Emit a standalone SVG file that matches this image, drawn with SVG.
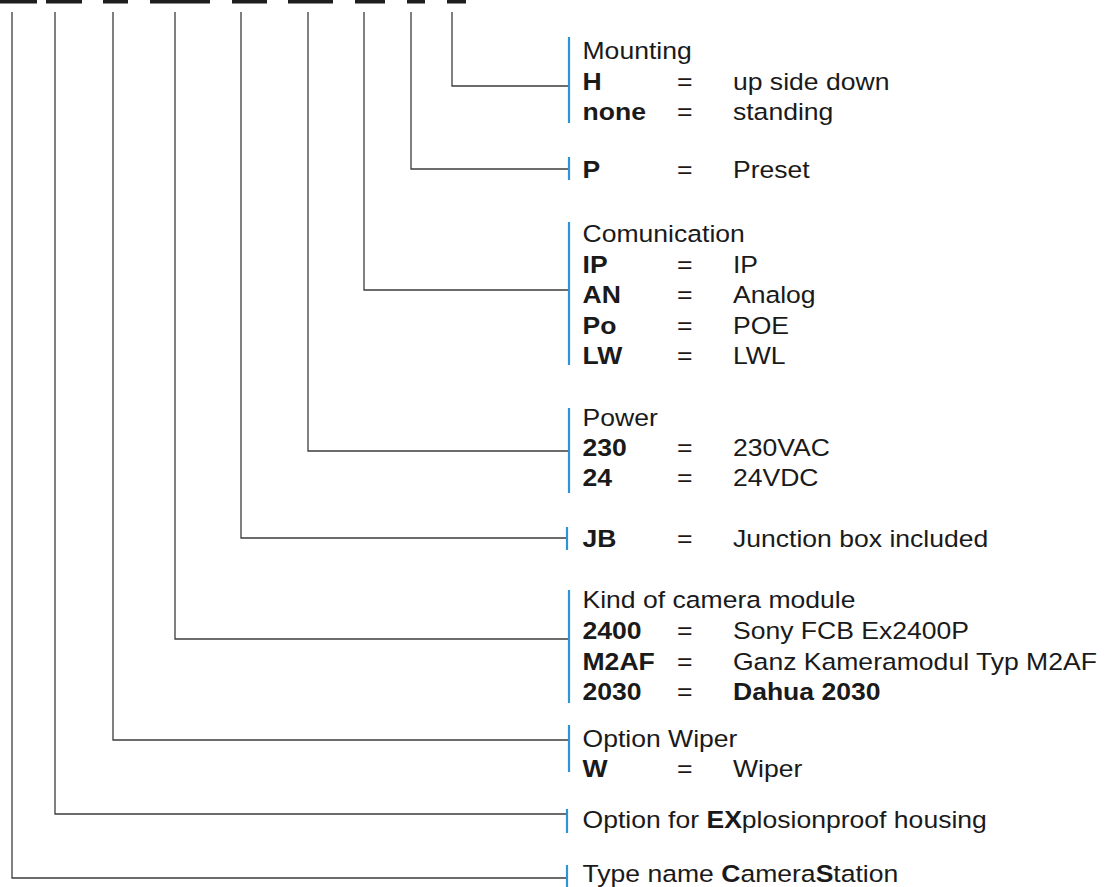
<svg xmlns="http://www.w3.org/2000/svg" width="1112" height="887" viewBox="0 0 1112 887">
<style>
.bar{fill:#1e1e1e}
.ln{fill:none;stroke:#3c3c3c;stroke-width:1.3}
.bl{stroke:#2f93d6;stroke-width:2.2}
text{font-family:"Liberation Sans",Arial,sans-serif;font-size:23.3px;fill:#1a1a1a}
.b{font-weight:bold}
</style>
<rect width="1112" height="887" fill="#ffffff"/>
<g id="code-bars">
<rect class="bar" x="0" y="0" width="37" height="3.5"/>
<rect class="bar" x="46" y="0" width="36" height="3.5"/>
<rect class="bar" x="103" y="0" width="25" height="3.5"/>
<rect class="bar" x="150" y="0" width="60" height="3.5"/>
<rect class="bar" x="232" y="0" width="35" height="3.5"/>
<rect class="bar" x="288" y="0" width="45" height="3.5"/>
<rect class="bar" x="355" y="0" width="30" height="3.5"/>
<rect class="bar" x="407" y="0" width="18" height="3.5"/>
<rect class="bar" x="447" y="0" width="19" height="3.5"/>
</g>
<g id="connectors">
<polyline class="ln" points="452,12 452,86 568,86"/>
<polyline class="ln" points="411,12 411,169 568,169"/>
<polyline class="ln" points="364,12 364,290 568,290"/>
<polyline class="ln" points="308,12 308,451 568,451"/>
<polyline class="ln" points="241,12 241,538 567,538"/>
<polyline class="ln" points="175,12 175,639 568,639"/>
<polyline class="ln" points="113,12 113,740 568,740"/>
<polyline class="ln" points="55,12 55,814 567,814"/>
<polyline class="ln" points="12,12 12,878 567,878"/>
</g>
<g id="mounting">
<line class="bl" x1="569" y1="37" x2="569" y2="123"/>
<g transform="matrix(1.14 0 0 1 582.5 0)">
<text x="0" y="59">Mounting</text>
<text class="b" x="0" y="90">H</text><text x="82.9" y="90">=</text><text x="132" y="90">up side down</text>
<text class="b" x="0" y="120">none</text><text x="82.9" y="120">=</text><text x="132" y="120">standing</text>
</g>
</g>
<g id="preset">
<line class="bl" x1="569" y1="157" x2="569" y2="180"/>
<g transform="matrix(1.14 0 0 1 582.5 0)">
<text class="b" x="0" y="178">P</text><text x="82.9" y="178">=</text><text x="132" y="178">Preset</text>
</g>
</g>
<g id="communication">
<line class="bl" x1="569" y1="222" x2="569" y2="365"/>
<g transform="matrix(1.14 0 0 1 582.5 0)">
<text x="0" y="242">Comunication</text>
<text class="b" x="0" y="273">IP</text><text x="82.9" y="273">=</text><text x="132" y="273">IP</text>
<text class="b" x="0" y="303">AN</text><text x="82.9" y="303">=</text><text x="132" y="303">Analog</text>
<text class="b" x="0" y="334">Po</text><text x="82.9" y="334">=</text><text x="132" y="334">POE</text>
<text class="b" x="0" y="364">LW</text><text x="82.9" y="364">=</text><text x="132" y="364">LWL</text>
</g>
</g>
<g id="power">
<line class="bl" x1="569" y1="408" x2="569" y2="493"/>
<g transform="matrix(1.14 0 0 1 582.5 0)">
<text x="0" y="426">Power</text>
<text class="b" x="0" y="456">230</text><text x="82.9" y="456">=</text><text x="132" y="456">230VAC</text>
<text class="b" x="0" y="486">24</text><text x="82.9" y="486">=</text><text x="132" y="486">24VDC</text>
</g>
</g>
<g id="junction-box">
<line class="bl" x1="567" y1="527" x2="567" y2="550"/>
<g transform="matrix(1.14 0 0 1 582.5 0)">
<text class="b" x="0" y="547">JB</text><text x="82.9" y="547">=</text><text x="132" y="547">Junction box included</text>
</g>
</g>
<g id="camera-module">
<line class="bl" x1="569" y1="590" x2="569" y2="703"/>
<g transform="matrix(1.14 0 0 1 582.5 0)">
<text x="0" y="608">Kind of camera module</text>
<text class="b" x="0" y="639">2400</text><text x="82.9" y="639">=</text><text x="132" y="639">Sony FCB Ex2400P</text>
<text class="b" x="0" y="670">M2AF</text><text x="82.9" y="670">=</text><text x="132" y="670">Ganz Kameramodul Typ M2AF</text>
<text class="b" x="0" y="700">2030</text><text x="82.9" y="700">=</text><text class="b" x="132" y="700">Dahua 2030</text>
</g>
</g>
<g id="wiper">
<line class="bl" x1="569" y1="725" x2="569" y2="772"/>
<g transform="matrix(1.14 0 0 1 582.5 0)">
<text x="0" y="747">Option Wiper</text>
<text class="b" x="0" y="777">W</text><text x="82.9" y="777">=</text><text x="132" y="777">Wiper</text>
</g>
</g>
<g id="explosionproof">
<line class="bl" x1="567" y1="809" x2="567" y2="833"/>
<g transform="matrix(1.14 0 0 1 582.5 0)">
<text x="0" y="828">Option for <tspan class="b">EX</tspan>plosionproof housing</text>
</g>
</g>
<g id="type-name">
<line class="bl" x1="567" y1="865" x2="567" y2="887"/>
<g transform="matrix(1.14 0 0 1 582.5 0)">
<text x="0" y="882">Type name <tspan class="b">C</tspan>amera<tspan class="b">S</tspan>tation</text>
</g>
</g>
</svg>
